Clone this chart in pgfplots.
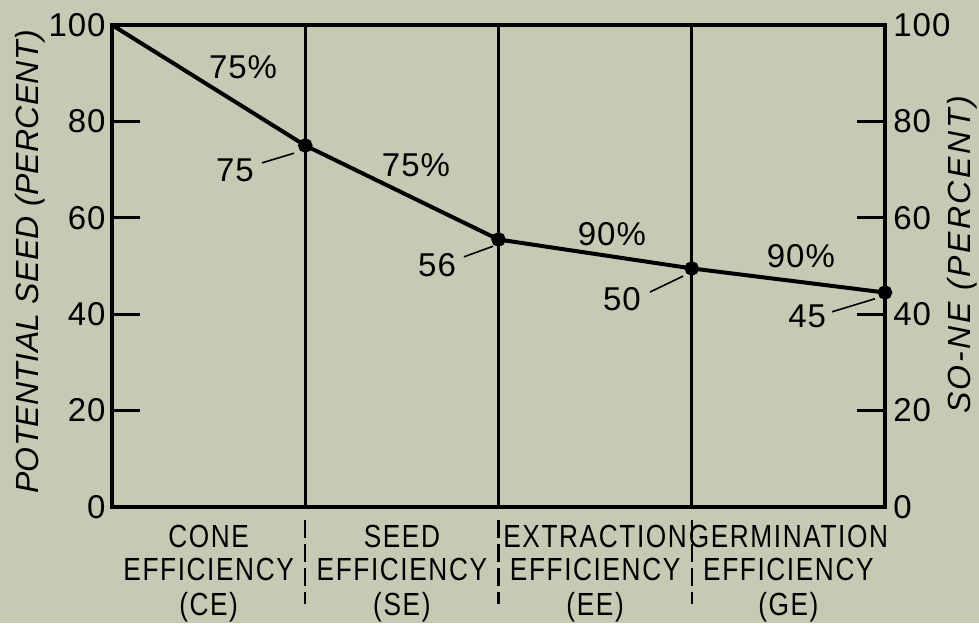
\documentclass[border=0pt]{standalone}
\usepackage{fontspec}
\setmainfont{Liberation Sans}[FakeStretch=0.82, LetterSpace=5]
\newfontfamily\digfont{Liberation Sans}[LetterSpace=3]
\newfontfamily\labfontL{Liberation Sans}[LetterSpace=1]
\newfontfamily\labfontR{Liberation Sans}[LetterSpace=8]
\usepackage{pgfplots}
\pgfplotsset{compat=1.18}
\definecolor{bg}{RGB}{200,201,181}
\newcommand{\tf}{\fontsize{16}{18}\selectfont}
\newcommand{\df}{\digfont\fontsize{16.5}{18}\selectfont}
\begin{document}
\begin{tikzpicture}
\fill[bg] (-56pt,-58pt) rectangle (433.5pt,253.5pt);
\useasboundingbox (-56pt,-58pt) rectangle (433.5pt,253.5pt);
\begin{axis}[at={(0,0)}, anchor=south west, scale only axis,
  width=386.5pt, height=241pt,
  xmin=0, xmax=4, ymin=0, ymax=100, clip=false,
  axis line style={line width=2pt, black},
  xtick={1,2,3}, xticklabels={}, xmajorgrids,
  major x grid style={line width=1.7pt, black},
  x tick style={draw=none},
  ytick={0,20,40,60,80,100},
  ytick pos=both, yticklabel pos=left, tick align=inside,
  major tick length=14pt,
  y tick style={line width=1.5pt, black},
  /pgf/number format/assume math mode=true,
  tick label style={font=\df, inner sep=0pt},
  yticklabel style={xshift=-3pt},
]
\addplot[line width=2pt, black, mark=*, mark size=2.6pt, mark indices={2,3,4,5}]
  coordinates {(0,100) (1,75) (2,55.5) (3,49.5) (4,44.5)};

\node[font=\df] at (axis cs:0.678,91.3) {75\%};
\node[font=\df] at (axis cs:0.636,69.9) {75};
\draw[line width=0.8pt] (axis cs:0.776,71.4) -- (axis cs:0.942,73.4);
\node[font=\df] at (axis cs:1.573,71.0) {75\%};
\node[font=\df] at (axis cs:1.682,50.2) {56};
\draw[line width=0.8pt] (axis cs:1.821,51.9) -- (axis cs:1.972,54.1);
\node[font=\df] at (axis cs:2.587,56.6) {90\%};
\node[font=\df] at (axis cs:2.639,43.2) {50};
\draw[line width=0.8pt] (axis cs:2.784,44.6) -- (axis cs:2.955,47.9);
\node[font=\df] at (axis cs:3.565,52.1) {90\%};
\node[font=\df] at (axis cs:3.597,39.6) {45};
\draw[line width=0.8pt] (axis cs:3.726,40.5) -- (axis cs:3.948,43.2);

\draw[line width=1.2pt, dash pattern=on 9pt off 3pt] (axis cs:1,0) ++(0,-6.5pt) -- ++(0,-42pt);
\draw[line width=1.2pt, dash pattern=on 9pt off 3pt] (axis cs:2,0) ++(0,-6.5pt) -- ++(0,-42pt);
\draw[line width=1.2pt, dash pattern=on 9pt off 3pt] (axis cs:3,0) ++(0,-6.5pt) -- ++(0,-42pt);

\node[font=\tf, anchor=base] at ([yshift=-20pt]axis cs:0.5,0) {CONE};
\node[font=\tf, anchor=base] at ([yshift=-36.5pt]axis cs:0.5,0) {EFFICIENCY};
\node[font=\tf, anchor=base] at ([yshift=-54pt]axis cs:0.5,0) {(CE)};
\node[font=\tf, anchor=base] at ([yshift=-20pt]axis cs:1.5,0) {SEED};
\node[font=\tf, anchor=base] at ([yshift=-36.5pt]axis cs:1.5,0) {EFFICIENCY};
\node[font=\tf, anchor=base] at ([yshift=-54pt]axis cs:1.5,0) {(SE)};
\node[font=\tf, anchor=base] at ([yshift=-20pt]axis cs:2.5,0) {EXTRACTION};
\node[font=\tf, anchor=base] at ([yshift=-36.5pt]axis cs:2.5,0) {EFFICIENCY};
\node[font=\tf, anchor=base] at ([yshift=-54pt]axis cs:2.5,0) {(EE)};
\node[font=\tf, anchor=base] at ([yshift=-20pt]axis cs:3.5,0) {GERMINATION};
\node[font=\tf, anchor=base] at ([yshift=-36.5pt]axis cs:3.5,0) {EFFICIENCY};
\node[font=\tf, anchor=base] at ([yshift=-54pt]axis cs:3.5,0) {(GE)};
\end{axis}
\begin{axis}[at={(0,0)}, anchor=south west, scale only axis,
  width=386.5pt, height=241pt,
  xmin=0, xmax=4, ymin=0, ymax=100,
  hide x axis, axis y line*=right,
  axis line style={draw=none},
  ytick={0,20,40,60,80,100}, major tick length=0pt,
  /pgf/number format/assume math mode=true,
  tick label style={font=\df, inner sep=0pt},
  yticklabel style={xshift=4pt},
]
\addplot[draw=none] coordinates {(0,0)};
\end{axis}
\node[rotate=90, font={\labfontL\itshape\fontsize{16}{18}\selectfont}] at (-41pt,122.5pt) {POTENTIAL SEED (PERCENT)};
\node[rotate=90, font={\labfontR\itshape\fontsize{16}{18}\selectfont}] at (425pt,126pt) {SO-NE (PERCENT)};
\end{tikzpicture}
\end{document}
